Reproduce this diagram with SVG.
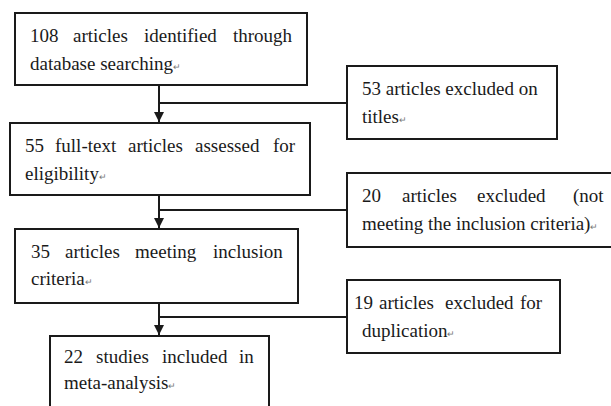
<svg xmlns="http://www.w3.org/2000/svg" width="611" height="406" viewBox="0 0 611 406">
<defs>
<marker id="arr" viewBox="0 0 10 10" refX="10" refY="5" markerWidth="10" markerHeight="10" markerUnits="userSpaceOnUse" orient="auto">
<path d="M0,0 L10,5 L0,10 Z" fill="#1a1a1a"/>
</marker>
<style>
.box{fill:#fff;stroke:#1a1a1a;stroke-width:2}
.t{font-family:"Liberation Serif","Times New Roman",serif;font-size:19px;fill:#1a1a1a}
.pm{font-size:9px;fill:#777}
.ln{fill:none;stroke:#1a1a1a;stroke-width:2}
</style>
</defs>
<rect width="611" height="406" fill="#fff"/>
<g id="connectors">
<line class="ln" x1="159" y1="85" x2="159" y2="122" marker-end="url(#arr)"/>
<line class="ln" x1="159" y1="103" x2="347" y2="103"/>
<line class="ln" x1="159" y1="195" x2="159" y2="228" marker-end="url(#arr)"/>
<line class="ln" x1="159" y1="210" x2="347" y2="210"/>
<line class="ln" x1="159" y1="303" x2="159" y2="335" marker-end="url(#arr)"/>
<line class="ln" x1="159" y1="317" x2="347" y2="317"/>
</g>
<g id="n1">
<rect class="box" x="15" y="13" width="292" height="72"/>
<text class="t" y="42"><tspan x="30">108</tspan><tspan x="73">articles</tspan><tspan x="144">identified</tspan><tspan x="233">through</tspan></text>
<text class="t" x="30" y="70">database searching<tspan class="pm">↵</tspan></text>
</g>
<g id="n2">
<rect class="box" x="347" y="66" width="210" height="73"/>
<text class="t" x="362" y="95">53 articles excluded on</text>
<text class="t" x="362" y="123">titles<tspan class="pm">↵</tspan></text>
</g>
<g id="n3">
<rect class="box" x="10" y="123" width="300" height="72"/>
<text class="t" y="152"><tspan x="25">55</tspan><tspan x="55">full-text</tspan><tspan x="128">articles</tspan><tspan x="195">assessed</tspan><tspan x="273">for</tspan></text>
<text class="t" x="25" y="180">eligibility<tspan class="pm">↵</tspan></text>
</g>
<g id="n4">
<rect class="box" x="347" y="173" width="266" height="74"/>
<text class="t" y="202"><tspan x="362">20</tspan><tspan x="402">articles</tspan><tspan x="477">excluded</tspan><tspan x="573">(not</tspan></text>
<text class="t" x="362" y="230">meeting the inclusion criteria)<tspan class="pm">↵</tspan></text>
</g>
<g id="n5">
<rect class="box" x="15" y="229" width="283" height="74"/>
<text class="t" y="258"><tspan x="31">35</tspan><tspan x="65">articles</tspan><tspan x="135">meeting</tspan><tspan x="213">inclusion</tspan></text>
<text class="t" x="31" y="285">criteria<tspan class="pm">↵</tspan></text>
</g>
<g id="n6">
<rect class="box" x="347" y="280" width="213" height="73"/>
<text class="t" y="309"><tspan x="354">19</tspan><tspan x="379">articles</tspan><tspan x="445">excluded</tspan><tspan x="520">for</tspan></text>
<text class="t" x="362" y="337">duplication<tspan class="pm">↵</tspan></text>
</g>
<g id="n7">
<rect class="box" x="50" y="336" width="219" height="80"/>
<text class="t" y="363"><tspan x="64">22</tspan><tspan x="96">studies</tspan><tspan x="162">included</tspan><tspan x="239">in</tspan></text>
<text class="t" x="64" y="389">meta-analysis<tspan class="pm">↵</tspan></text>
</g>
</svg>
